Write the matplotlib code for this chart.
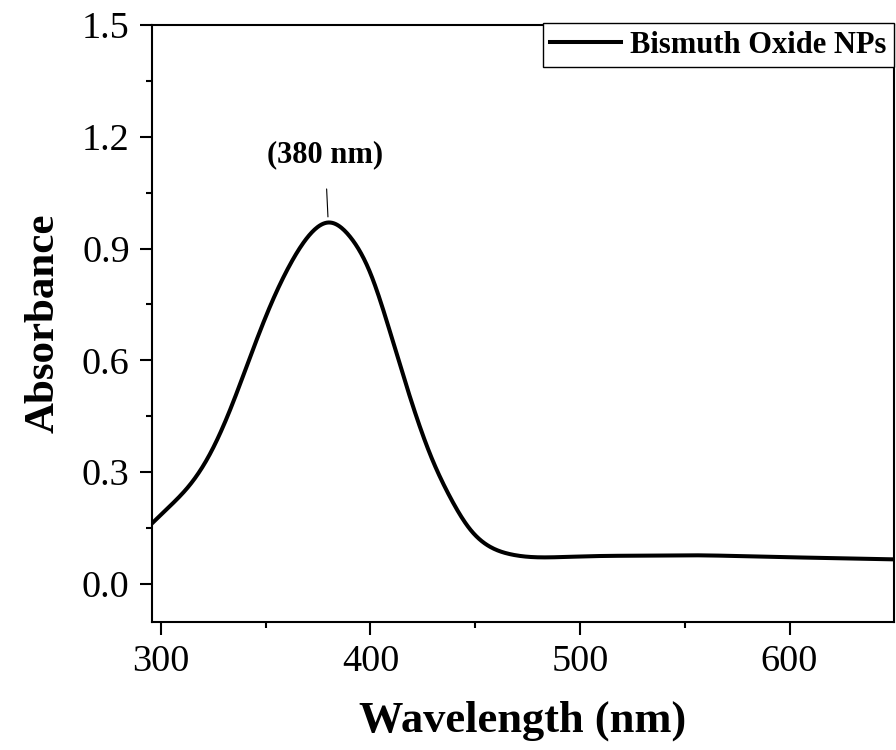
import numpy as np
import matplotlib
matplotlib.use("Agg")
import matplotlib.pyplot as plt
from matplotlib.ticker import MultipleLocator

plt.rcParams['font.family'] = ['Liberation Serif', 'DejaVu Serif']

# UV-Vis absorbance
wavelength = [295.8, 304.3, 313.8, 323.4, 332.9, 342.5, 352.0, 361.6, 371.1, 380.3,
              390.2, 399.8, 409.3, 418.9, 428.4, 438.0, 447.5, 457.0, 466.6, 477.7,
              490.0, 509.5, 530.0, 549.0, 575.0, 597.0, 625.0, 649.9]
absorbance = [0.163, 0.209, 0.266, 0.349, 0.466, 0.608, 0.744, 0.857, 0.938, 0.970,
              0.932, 0.836, 0.677, 0.501, 0.349, 0.233, 0.147, 0.100, 0.080, 0.072,
              0.072, 0.075, 0.076, 0.077, 0.075, 0.072, 0.069, 0.066]

peak_label = "(380 nm)"
series_name = "Bismuth Oxide NPs"


def natural_spline(x, y, xs):
    # plain natural cubic spline, just to draw the read points smoothly
    x = np.asarray(x, float)
    y = np.asarray(y, float)
    n = len(x)
    h = np.diff(x)
    A = np.zeros((n, n))
    b = np.zeros(n)
    A[0, 0] = A[-1, -1] = 1
    for i in range(1, n - 1):
        A[i, i - 1] = h[i - 1]
        A[i, i] = 2 * (h[i - 1] + h[i])
        A[i, i + 1] = h[i]
        b[i] = 3 * ((y[i + 1] - y[i]) / h[i] - (y[i] - y[i - 1]) / h[i - 1])
    c = np.linalg.solve(A, b)
    idx = np.clip(np.searchsorted(x, xs) - 1, 0, n - 2)
    dx = xs - x[idx]
    bb = (y[idx + 1] - y[idx]) / h[idx] - h[idx] * (2 * c[idx] + c[idx + 1]) / 3
    d = (c[idx + 1] - c[idx]) / (3 * h[idx])
    return y[idx] + bb * dx + c[idx] * dx ** 2 + d * dx ** 3


xs = np.linspace(wavelength[0], wavelength[-1], 800)
ys = natural_spline(wavelength, absorbance, xs)

fig = plt.figure(figsize=(8.96, 7.5), dpi=100)
ax = fig.add_axes([0.1696, 0.1707, 0.828, 0.796])

ax.plot(xs, ys, color='black', lw=2.9, label=series_name)

ax.set_xlim(295.7, 649.8)
ax.set_ylim(-0.102, 1.5)
ax.xaxis.set_major_locator(MultipleLocator(100))
ax.xaxis.set_minor_locator(MultipleLocator(50))
ax.yaxis.set_major_locator(MultipleLocator(0.3))
ax.yaxis.set_minor_locator(MultipleLocator(0.15))
ax.yaxis.set_major_formatter(plt.FuncFormatter(lambda v, p: f"{v:.1f}"))

ax.tick_params(which='major', direction='out', length=9, width=1.5, labelsize=27.5, pad=7)
ax.tick_params(which='minor', direction='out', length=4.5, width=1.5)
for s in ax.spines.values():
    s.set_linewidth(1.5)

ax.set_xlabel("Wavelength (nm)", fontsize=32, fontweight='bold', labelpad=16)
ax.set_ylabel("Absorbance", fontsize=31, fontweight='bold', labelpad=14)

ax.annotate(peak_label, xy=(379.7, 0.985), xytext=(378.3, 1.151),
            ha='center', va='center', fontsize=22, fontweight='bold',
            arrowprops=dict(arrowstyle='-', color='black', lw=0.8, shrinkA=12, shrinkB=0))

leg = ax.legend(loc='upper right', bbox_to_anchor=(1.0, 1.003), borderaxespad=0,
                prop={'size': 22, 'weight': 'bold'}, fancybox=False, framealpha=1,
                edgecolor='black', handlelength=2.3, handletextpad=0.3,
                borderpad=0.25)
leg.get_frame().set_linewidth(1.0)
for h in leg.get_lines():
    h.set_linewidth(2.9)

fig.savefig("out.png", dpi=100)
